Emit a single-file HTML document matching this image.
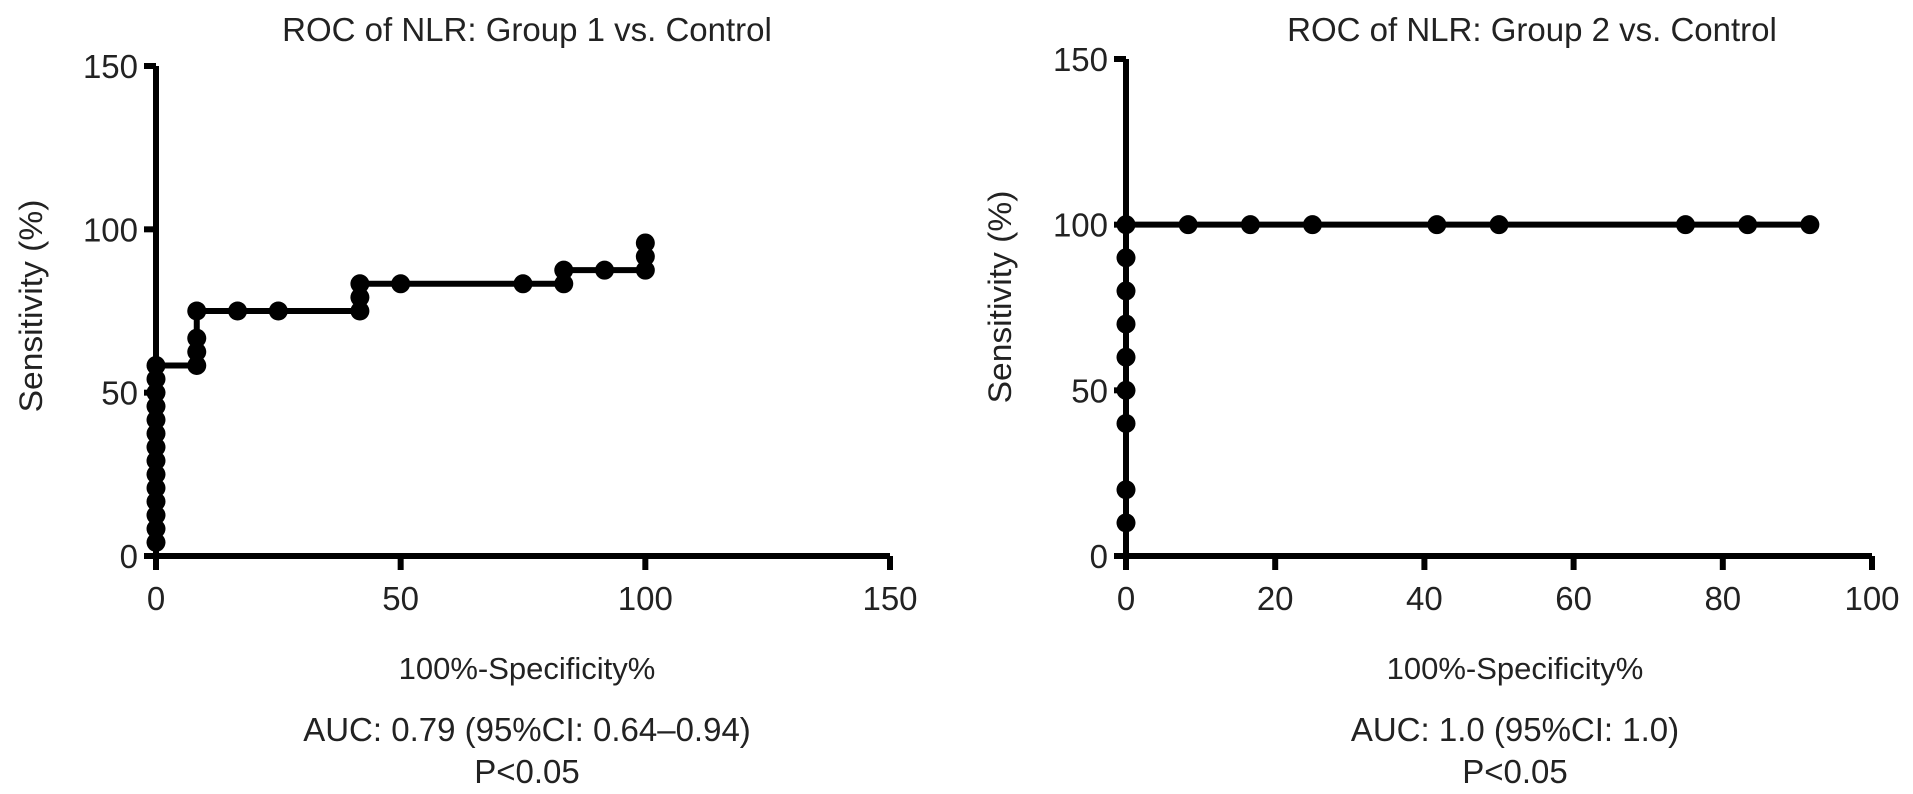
<!DOCTYPE html>
<html><head><meta charset="utf-8"><style>
html,body{margin:0;padding:0;background:#fff;width:1913px;height:794px;overflow:hidden}
svg text{font-family:"Liberation Sans",sans-serif;fill:#222}
</style></head><body>
<svg id="svg" width="1913" height="794" viewBox="0 0 1913 794">
<g id="c1"></g>
<g id="c2"></g>
</svg>
<script>
const xs1 = [0,0,0,0,0,0,0,0,0,0,0,0,0,0,8.33,8.33,8.33,8.33,16.67,25,41.67,41.67,41.67,50,75,83.33,83.33,91.67,100,100,100];
const ys1 = [4.17,8.33,12.5,16.67,20.83,25,29.17,33.33,37.5,41.67,45.83,50,54.17,58.33,58.33,62.5,66.67,75,75,75,75,79.17,83.33,83.33,83.33,83.33,87.5,87.5,87.5,91.67,95.83];
const xs2 = [0,0,0,0,0,0,0,0,0,8.33,16.67,25,41.67,50,75,83.33,91.67];
const ys2 = [10,20,40,50,60,70,80,90,100,100,100,100,100,100,100,100,100];
const xTicks1 = [0,50,100,150];
const xTicks2 = [0,20,40,60,80,100];
const yTicks = [0,50,100,150];
const NS='http://www.w3.org/2000/svg';
function mk(parent,tag,attrs){const e=document.createElementNS(NS,tag);for(const k in attrs)e.setAttribute(k,attrs[k]);parent.appendChild(e);return e;}
function draw(g,cfg,xs,ys,xTicks){
  const sx=v=>cfg.x0+(v-0)*(cfg.x1-cfg.x0)/cfg.xmax;
  const sy=v=>cfg.y0-(v)*(cfg.y0-cfg.y1)/150;
  const ax=mk(g,'path',{d:`M${sx(0)},${sy(150)} V${sy(0)} M${sx(0)-12},${sy(0)} H${sx(cfg.xmax)}`,stroke:'#000','stroke-width':6,fill:'none'});
  
  
  yTicks.forEach(t=>{
    const l=mk(g,'line',{x1:sx(0)-12,x2:sx(0),y1:sy(t),y2:sy(t),stroke:'#000','stroke-width':6});
    
    
    const tx=mk(g,'text',{x:sx(0)-18,y:sy(t)+12,'text-anchor':'end','font-size':33});
    tx.textContent=t;
    
    
  });
  xTicks.forEach(t=>{
    const l=mk(g,'line',{x1:sx(t),x2:sx(t),y1:sy(0),y2:sy(0)+14,stroke:'#000','stroke-width':6});
    
    
    const tx=mk(g,'text',{x:sx(t),y:sy(0)+54,'text-anchor':'middle','font-size':33});
    tx.textContent=t;
    
    
  });
  let d=`M${sx(xs[0])},${sy(ys[0])}`;
  for(let i=1;i<xs.length;i++){d+=` H${sx(xs[i])} V${sy(ys[i])}`;}
  const ln=mk(g,'path',{d,stroke:'#000','stroke-width':6,fill:'none'});
  
  
  for(let i=0;i<xs.length;i++){
    const c=mk(g,'circle',{cx:sx(xs[i]),cy:sy(ys[i]),r:9.5,fill:'#000'});
    
    
  }
  const t=mk(g,'text',{x:cfg.tx,y:41,'text-anchor':'middle','font-size':33});t.textContent=cfg.title;
  
  
  const yt=mk(g,'text',{x:0,y:0,'text-anchor':'middle','font-size':32,transform:`translate(${cfg.ytx},${cfg.yty}) rotate(-90) scale(1.05,1)`});yt.textContent='Sensitivity (%)';
  
  
  const xt=mk(g,'text',{x:cfg.xtx,y:679,'text-anchor':'middle','font-size':31});xt.textContent='100%-Specificity%';
  
  
  const a=mk(g,'text',{x:cfg.xtx,y:741,'text-anchor':'middle','font-size':33});a.textContent=cfg.auc;
  
  
  const p=mk(g,'text',{x:cfg.xtx,y:783,'text-anchor':'middle','font-size':33});p.textContent='P<0.05';
  
  
}
draw(document.getElementById('c1'),{x0:156,x1:890,xmax:150,y0:556,y1:66,tx:527,title:'ROC of NLR: Group 1 vs. Control',ytx:42,yty:306,xtx:527,auc:'AUC: 0.79 (95%CI: 0.64\u20130.94)'},xs1,ys1,xTicks1);
draw(document.getElementById('c2'),{x0:1126,x1:1872,xmax:100,y0:556,y1:59,tx:1532,title:'ROC of NLR: Group 2 vs. Control',ytx:1011,yty:297,xtx:1515,auc:'AUC: 1.0 (95%CI: 1.0)'},xs2,ys2,xTicks2);
</script>
</body></html>
